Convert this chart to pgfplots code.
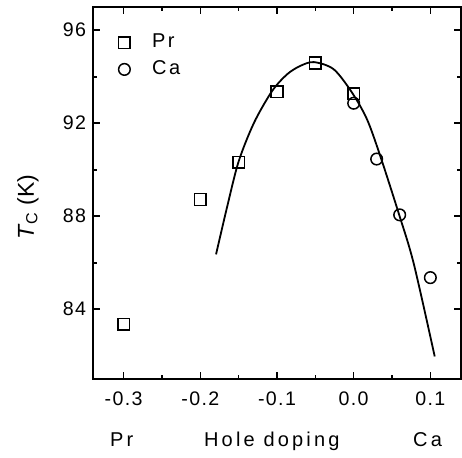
\documentclass[border=0pt]{standalone}
\usepackage{pgfplots}
\pgfplotsset{compat=1.18}
\usepackage{fontspec}
\setmainfont{Liberation Sans}

\begin{document}
\begin{tikzpicture}
\begin{axis}[
  width=184pt, height=186pt, scale only axis,
  xmin=-0.34, xmax=0.14, ymin=81, ymax=97,
  xtick={-0.3,-0.2,-0.1,0,0.1},
  ytick={84,88,92,96},
  minor x tick num=1, minor y tick num=1,
  tick align=inside,
  major tick length=3.5pt, minor tick length=1.8pt,
  axis line style={line width=1pt},
  every tick/.style={line width=0.8pt, black},
  /pgf/number format/assume math mode=true,
  xticklabel style={yshift=-3pt, /pgf/number format/.cd, fixed, fixed zerofill, precision=1},
  tick label style={font=\fontsize{9.8}{11}\selectfont\addfontfeature{LetterSpace=7}},
  ylabel={\textit{T}\textsubscript{C} (K)},
  ylabel style={at={(axis description cs:-0.177,0.462)}, anchor=center,
    font=\fontsize{11.5}{13}\selectfont},
  legend image code/.code={\draw plot coordinates {(0pt,0pt)};},
  legend style={draw=none, fill=none, inner sep=0pt,
    nodes={inner sep=0pt},
    at={(axis description cs:0.0685,0.928)}, anchor=north west,
    font=\fontsize{10}{11}\selectfont\addfontfeature{LetterSpace=12},
    column sep=11pt, row sep=5pt},
  legend cell align=left,
  clip=false,
]
  \path (axis description cs:-0.2527,-0.2043) rectangle (axis description cs:1.0027,1.0188);
  \addplot[only marks, mark=square, mark size=2.9pt, mark options={line width=0.75pt}]
    coordinates {(-0.30,83.35) (-0.20,88.72) (-0.15,90.33) (-0.10,93.36) (-0.05,94.59) (0.00,93.27)};
  \addlegendentry{Pr}
  \addplot[only marks, mark=o, mark size=2.9pt, mark options={line width=0.75pt}]
    coordinates {(0.00,92.86) (0.03,90.46) (0.06,88.06) (0.10,85.36)};
  \addlegendentry{Ca}
  \addplot[smooth, line width=0.9pt, forget plot]
    coordinates {(-0.1795,86.36) (-0.165,88.41) (-0.15,90.36) (-0.130,92.02)
      (-0.1065,93.38) (-0.087,94.10) (-0.07,94.46) (-0.052,94.63) (-0.026,94.32)
      (-0.002,93.31) (0.0175,92.16) (0.0348,90.58) (0.0587,88.13) (0.0783,85.97)
      (0.1057,81.97)};
  \begin{scope}[every node/.style={anchor=base, font=\fontsize{10}{12}\selectfont\addfontfeature{LetterSpace=16}}]
    \node at (axis description cs:0.078,-0.182) {Pr};
    \node at (axis description cs:0.486,-0.182) {Hole doping};
    \node at (axis description cs:0.909,-0.182) {Ca};
  \end{scope}
\end{axis}
\end{tikzpicture}
\end{document}
